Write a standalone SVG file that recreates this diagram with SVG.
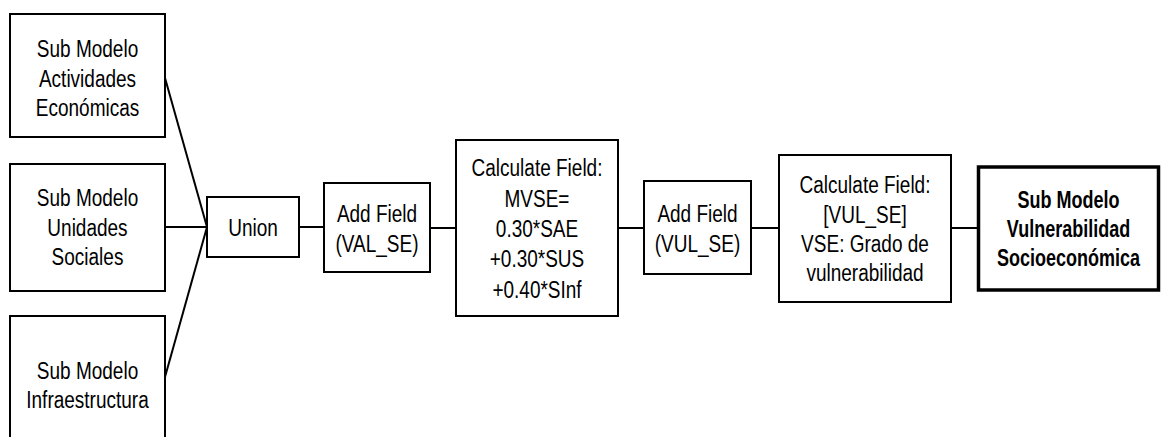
<svg xmlns="http://www.w3.org/2000/svg" width="1161" height="437" viewBox="0 0 1161 437">
  <style>
    .box { fill: #ffffff; stroke: #000000; stroke-width: 2; }
    .bold-box { fill: #ffffff; stroke: #000000; stroke-width: 3.5; }
    .conn { fill: none; stroke: #000000; stroke-width: 2; }
    .t { font-family: "Liberation Sans", Arial, sans-serif; font-size: 19px; fill: #000000; text-anchor: middle; }
    .tb { font-family: "Liberation Sans", Arial, sans-serif; font-size: 18px; font-weight: bold; fill: #000000; text-anchor: middle; }
  </style>
  <rect width="1161" height="437" fill="#ffffff"/>

  <g id="connectors">
    <line class="conn" x1="165" y1="78" x2="207" y2="227"/>
    <line class="conn" x1="165" y1="227" x2="207" y2="227"/>
    <line class="conn" x1="165" y1="377" x2="207" y2="227"/>
    <line class="conn" x1="299" y1="227" x2="324" y2="227"/>
    <line class="conn" x1="430" y1="228" x2="456" y2="228"/>
    <line class="conn" x1="618" y1="228" x2="644" y2="228"/>
    <line class="conn" x1="751" y1="228" x2="779" y2="228"/>
    <line class="conn" x1="951" y1="228" x2="978" y2="228"/>
  </g>

  <g id="sub-actividades">
    <rect class="box" x="10" y="14" width="155" height="123"/>
    <text class="t" transform="matrix(1 0 0 1.22 87.5 57)">Sub Modelo</text>
    <text class="t" transform="matrix(1 0 0 1.22 87.5 86.5)">Actividades</text>
    <text class="t" transform="matrix(1 0 0 1.22 87.5 116)">Económicas</text>
  </g>

  <g id="sub-unidades">
    <rect class="box" x="10" y="164" width="155" height="127"/>
    <text class="t" transform="matrix(1 0 0 1.22 87.5 206)">Sub Modelo</text>
    <text class="t" transform="matrix(1 0 0 1.22 87.5 235.5)">Unidades</text>
    <text class="t" transform="matrix(1 0 0 1.22 87.5 265)">Sociales</text>
  </g>

  <g id="sub-infraestructura">
    <rect class="box" x="10" y="316" width="155" height="140"/>
    <text class="t" transform="matrix(1 0 0 1.22 87.5 379)">Sub Modelo</text>
    <text class="t" transform="matrix(1 0 0 1.22 87.5 408)">Infraestructura</text>
  </g>

  <g id="union">
    <rect class="box" x="207" y="197" width="92" height="60"/>
    <text class="t" transform="matrix(1 0 0 1.22 253 236)">Union</text>
  </g>

  <g id="add-field-val">
    <rect class="box" x="324" y="183" width="106" height="89"/>
    <text class="t" transform="matrix(1 0 0 1.22 377 221.5)">Add Field</text>
    <text class="t" transform="matrix(1 0 0 1.22 377 251.5)">(VAL_SE)</text>
  </g>

  <g id="calc-mvse">
    <rect class="box" x="456" y="140" width="162" height="176"/>
    <text class="t" transform="matrix(1 0 0 1.22 537 176)">Calculate Field:</text>
    <text class="t" transform="matrix(1 0 0 1.22 537 206.5)">MVSE=</text>
    <text class="t" transform="matrix(1 0 0 1.22 537 237)">0.30*SAE</text>
    <text class="t" transform="matrix(1 0 0 1.22 537 267)">+0.30*SUS</text>
    <text class="t" transform="matrix(1 0 0 1.22 537 297.5)">+0.40*SInf</text>
  </g>

  <g id="add-field-vul">
    <rect class="box" x="644" y="181" width="107" height="93"/>
    <text class="t" transform="matrix(1 0 0 1.22 697.5 221.5)">Add Field</text>
    <text class="t" transform="matrix(1 0 0 1.22 697.5 251.5)">(VUL_SE)</text>
  </g>

  <g id="calc-vul">
    <rect class="box" x="779" y="155" width="172" height="147"/>
    <text class="t" transform="matrix(1 0 0 1.22 865 193)">Calculate Field:</text>
    <text class="t" transform="matrix(1 0 0 1.22 865 222.5)">[VUL_SE]</text>
    <text class="t" transform="matrix(1 0 0 1.22 865 252)">VSE: Grado de</text>
    <text class="t" transform="matrix(1 0 0 1.22 865 281)">vulnerabilidad</text>
  </g>

  <g id="sub-vulnerabilidad">
    <rect class="bold-box" x="978.5" y="167" width="180" height="123"/>
    <text class="tb" transform="matrix(1 0 0 1.28 1068.5 208)">Sub Modelo</text>
    <text class="tb" transform="matrix(1 0 0 1.28 1068.5 237)">Vulnerabilidad</text>
    <text class="tb" transform="matrix(1 0 0 1.28 1068.5 266)">Socioeconómica</text>
  </g>
</svg>
